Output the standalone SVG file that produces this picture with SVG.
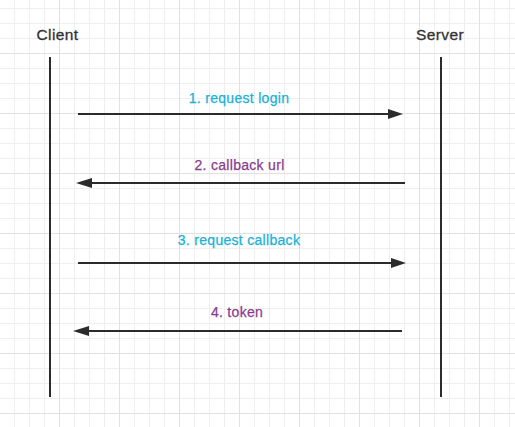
<svg xmlns="http://www.w3.org/2000/svg" width="515" height="427" viewBox="0 0 515 427">
  <style>
    .life { stroke: #2b2b2b; stroke-width: 2; fill: none; }
    .msg { stroke: #2b2b2b; stroke-width: 2; fill: none; }
    .head { fill: #2b2b2b; }
    .actor { font-family: "Liberation Sans", Arial, sans-serif; font-size: 15.5px; fill: #333333; stroke: #333333; stroke-width: 0.3px; letter-spacing: 0.4px; }
    .lbl { font-family: "Liberation Sans", Arial, sans-serif; font-size: 14px; letter-spacing: 0.3px; text-anchor: middle; stroke-width: 0.25px; }
    .cyan { fill: #17b2d6; stroke: #17b2d6; }
    .purple { fill: #8a3a8e; stroke: #8a3a8e; }
  </style>
  <defs>
    <pattern id="minor" x="0" y="0" width="15" height="15" patternUnits="userSpaceOnUse">
      <rect x="14" y="0" width="1" height="15" fill="#eeeeee"/>
      <rect x="0" y="8" width="15" height="1" fill="#eeeeee"/>
    </pattern>
    <pattern id="major" x="0" y="0" width="60" height="60" patternUnits="userSpaceOnUse">
      <rect x="59" y="0" width="1" height="60" fill="#e1e1e1"/>
      <rect x="0" y="53" width="60" height="1" fill="#e1e1e1"/>
    </pattern>
  </defs>
  <rect width="515" height="427" fill="#ffffff"/>
  <rect width="515" height="427" fill="url(#minor)"/>
  <rect width="515" height="427" fill="url(#major)"/>

  <g id="client">
    <text class="actor" x="57.5" y="40" text-anchor="middle">Client</text>
    <line class="life" x1="50" y1="57" x2="50" y2="397"/>
  </g>
  <g id="server">
    <text class="actor" x="440" y="40" text-anchor="middle">Server</text>
    <line class="life" x1="441" y1="57" x2="441" y2="397"/>
  </g>

  <g id="connectors">
    <g id="msg1">
      <line class="msg" x1="78" y1="114" x2="390" y2="114"/>
      <polygon class="head" points="403,114 388,109 388,119"/>
      <text class="lbl cyan" x="239" y="103">1. request login</text>
    </g>
    <g id="msg2">
      <line class="msg" x1="405" y1="183" x2="90" y2="183"/>
      <polygon class="head" points="76,183 92,178 92,188"/>
      <text class="lbl purple" x="239.5" y="170">2. callback url</text>
    </g>
    <g id="msg3">
      <line class="msg" x1="78" y1="263" x2="392" y2="263"/>
      <polygon class="head" points="406,263 391,258 391,268"/>
      <text class="lbl cyan" x="239" y="245">3. request callback</text>
    </g>
    <g id="msg4">
      <line class="msg" x1="402" y1="331" x2="88" y2="331"/>
      <polygon class="head" points="73,331 89,326 89,336"/>
      <text class="lbl purple" x="237" y="317">4. token</text>
    </g>
  </g>
</svg>
